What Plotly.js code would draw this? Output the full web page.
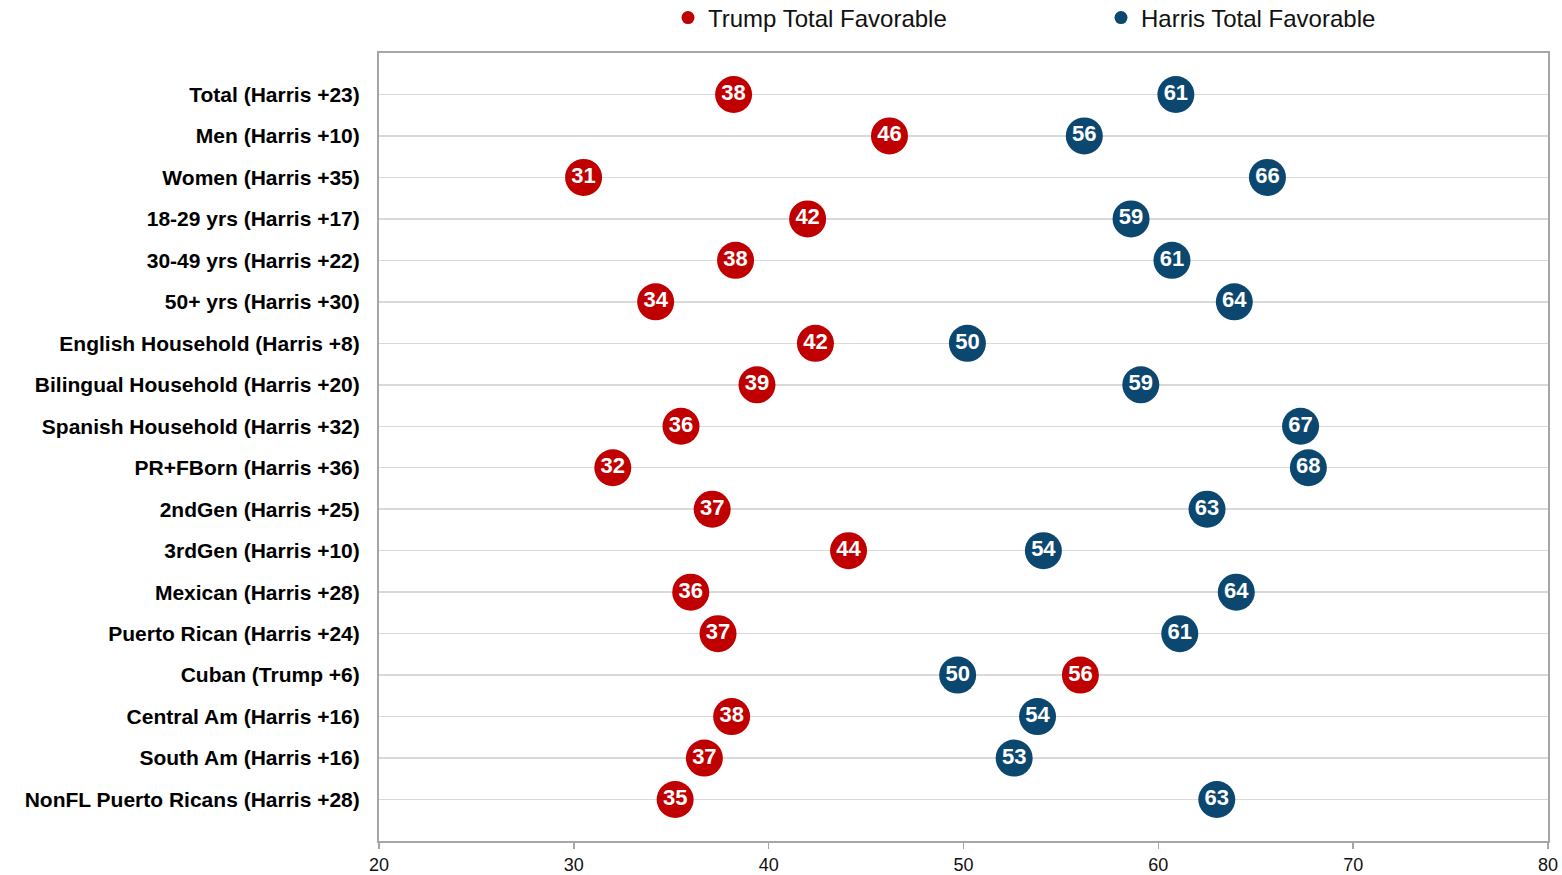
<!DOCTYPE html>
<html>
<head>
<meta charset="utf-8">
<script src="https://cdn.plot.ly/plotly-3.0.1.min.js"></script>
<style>html,body{margin:0;padding:0;background:#fff;}#chart{width:1562px;height:875px;}</style>
</head>
<body>
<div id="chart"></div>
<script>
const categories = [
  "Total (Harris +23)", "Men (Harris +10)", "Women (Harris +35)", "18-29 yrs (Harris +17)",
  "30-49 yrs (Harris +22)", "50+ yrs (Harris +30)", "English Household (Harris +8)",
  "Bilingual Household (Harris +20)", "Spanish Household (Harris +32)", "PR+FBorn (Harris +36)",
  "2ndGen (Harris +25)", "3rdGen (Harris +10)", "Mexican (Harris +28)", "Puerto Rican (Harris +24)",
  "Cuban (Trump +6)", "Central Am (Harris +16)", "South Am (Harris +16)", "NonFL Puerto Ricans (Harris +28)"
];
const trumpValues  = [38.2, 46.2, 30.5, 42.0, 38.3, 34.2, 42.4, 39.4, 35.5, 32.0, 37.1, 44.1, 36.0, 37.4, 56.0, 38.1, 36.7, 35.2];
const harrisValues = [60.9, 56.2, 65.6, 58.6, 60.7, 63.9, 50.2, 59.1, 67.3, 67.7, 62.5, 54.1, 64.0, 61.1, 49.7, 53.8, 52.6, 63.0];
const xTicks = [20, 30, 40, 50, 60, 70, 80];

const RED = "#C00000", BLUE = "#0B476F";
const FONT = "Liberation Sans, Arial, sans-serif";

function dotTrace(name, vals, color) {
  return {
    type: "scatter", mode: "markers+text", name: name, showlegend: false,
    x: vals, y: categories,
    text: vals.map(v => String(Math.round(v))),
    textposition: "middle center",
    textfont: {family: FONT, size: 22, color: "#fff", weight: "bold"},
    marker: {size: 37, color: color, line: {width: 0}},
    cliponaxis: false, hoverinfo: "x+y"
  };
}
function legendTrace(name, color, legendId) {
  return {type: "scatter", mode: "markers", name: name, x: [null], y: [null],
    marker: {size: 13, color: color}, showlegend: true, legend: legendId};
}

const data = [
  legendTrace("Trump Total Favorable", RED, "legend"),
  legendTrace("Harris Total Favorable", BLUE, "legend2"),
  dotTrace("Trump Total Favorable", trumpValues, RED),
  dotTrace("Harris Total Favorable", harrisValues, BLUE)
];

function legendBox(xpx) {
  return {
    orientation: "h", x: (xpx - 379) / 1169, xanchor: "left", y: 1 + (53 - 18) / 788, yanchor: "middle",
    font: {family: FONT, size: 24, color: "#111"},
    itemwidth: 30, bgcolor: "rgba(0,0,0,0)", borderwidth: 0
  };
}

const layout = {
  width: 1562, height: 875,
  margin: {l: 379, r: 14, t: 53, b: 34, pad: 0, autoexpand: false},
  paper_bgcolor: "#fff", plot_bgcolor: "#fff",
  font: {family: FONT, color: "#000"},
  showlegend: true,
  legend: legendBox(668),
  legend2: legendBox(1101),
  xaxis: {
    range: [20, 80], tickvals: xTicks, ticktext: xTicks.map(String),
    showgrid: false, zeroline: false, automargin: false,
    showline: true, mirror: true, linecolor: "#A6A6A6", linewidth: 2,
    ticks: "outside", ticklen: 6, tickcolor: "#A6A6A6", tickwidth: 1.5,
    tickfont: {family: FONT, size: 18, color: "#111"}
  },
  yaxis: {
    type: "category", categoryorder: "array", categoryarray: categories,
    range: [18, -1], automargin: false,
    showgrid: true, gridcolor: "#D9D9D9", gridwidth: 1.5, zeroline: false,
    showline: true, mirror: true, linecolor: "#A6A6A6", linewidth: 2,
    ticks: "", ticklabelstandoff: 13,
    tickfont: {family: FONT, size: 21, color: "#000", weight: "bold"}
  }
};

Plotly.newPlot("chart", data, layout, {displayModeBar: false, staticPlot: true});
</script>
</body>
</html>
